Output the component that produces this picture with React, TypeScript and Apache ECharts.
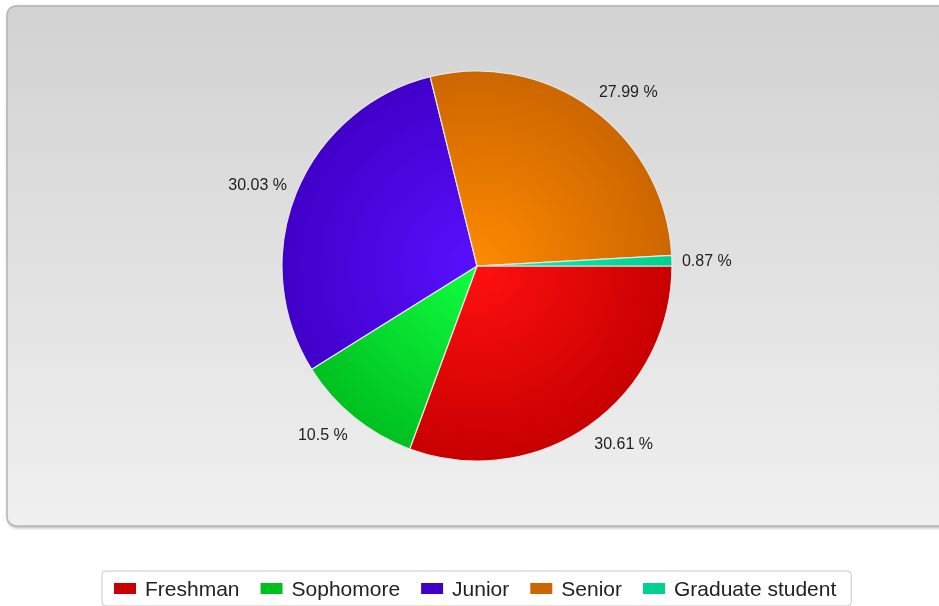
import React, { useEffect, useRef } from "react";
import * as echarts from "echarts";

const categories = ["Freshman", "Sophomore", "Junior", "Senior", "Graduate student"];
const values = [30.61, 10.5, 30.03, 27.99, 0.87];
const innerColors = ["#ff1010", "#10ff40", "#5a10ff", "#ff8a00", "#10f0b0"];
const outerColors = ["#c80000", "#00c020", "#4000c8", "#cc6600", "#00d090"];

const CX = 477;
const CY = 266;
const R = 195;
const LABEL_RX = 205;
const LABEL_RY = 217;

export default function App() {
  const ref = useRef<HTMLDivElement>(null);
  useEffect(() => {
    if (!ref.current) return;
    const chart = echarts.init(ref.current, undefined, { renderer: "svg" });
    const total = values.reduce((a, b) => a + b, 0);
    const data = categories.map((name, i) => ({
      name,
      value: values[i],
      itemStyle: {
        color: {
          type: "radial",
          x: CX,
          y: CY,
          r: R,
          global: true,
          colorStops: [
            { offset: 0, color: innerColors[i] },
            { offset: 1, color: outerColors[i] },
          ],
        },
      },
    }));
    chart.setOption({
      animation: false,
      color: outerColors,
      graphic: [
        {
          type: "rect",
          shape: { x: 7, y: 6, width: 960, height: 520, r: 9 },
          style: {
            fill: {
              type: "linear",
              x: 0,
              y: 0,
              x2: 0,
              y2: 1,
              colorStops: [
                { offset: 0, color: "#d2d2d2" },
                { offset: 1, color: "#f0f0f0" },
              ],
            },
            stroke: "#b4b4b4",
            lineWidth: 1.5,
            shadowBlur: 3,
            shadowOffsetX: 1,
            shadowOffsetY: 1,
            shadowColor: "rgba(0,0,0,0.35)",
          },
          z: -10,
        },
      ],
      legend: {
        data: categories,
        left: 102,
        top: 571,
        orient: "horizontal",
        icon: "rect",
        itemWidth: 22,
        itemHeight: 11,
        itemGap: 21,
        padding: [7, 15, 7, 12],
        borderColor: "#c8c8c8",
        borderWidth: 1,
        borderRadius: 4,
        backgroundColor: "#ffffff",
        itemStyle: { borderWidth: 0 },
        textStyle: {
          fontFamily: "Liberation Sans",
          fontSize: 21,
          color: "#222",
          padding: [0, 0, 0, 4],
        },
      },
      series: [
        {
          type: "pie",
          center: [CX, CY],
          radius: R,
          startAngle: 0,
          clockwise: true,
          avoidLabelOverlap: false,
          data,
          itemStyle: { borderColor: "#e6e6e6", borderWidth: 1.2 },
          label: {
            show: true,
            position: "outside",
            formatter: "{c} %",
            fontFamily: "Liberation Sans",
            fontSize: 16,
            color: "#222",
          },
          labelLine: { show: false, length: 8, length2: 2 },
          labelLayout: (params: any) => {
            const idx = params.dataIndex;
            let cum = 0;
            for (let k = 0; k < idx; k++) cum += values[k];
            const a = ((cum + values[idx] / 2) / total) * Math.PI * 2;
            const c = Math.cos(a);
            return {
              x: CX + LABEL_RX * c,
              y: CY + LABEL_RY * Math.sin(a),
              align: c >= 0 ? "left" : "right",
              verticalAlign: "middle",
            };
          },
          emphasis: { disabled: true },
        },
      ],
    });
    return () => chart.dispose();
  }, []);
  return (
    <div
      ref={ref}
      style={{ position: "fixed", left: 0, top: 0, width: 939, height: 606 }}
    />
  );
}
